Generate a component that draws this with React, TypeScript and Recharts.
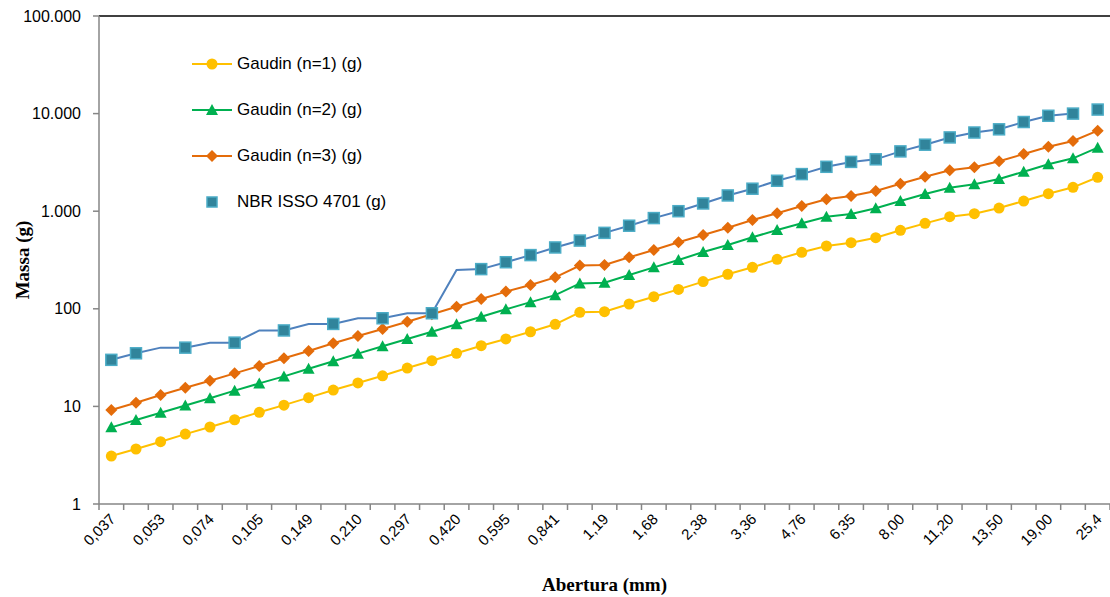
import React from 'react';
import { LineChart, Line, XAxis, YAxis, ReferenceLine } from 'recharts';

const aberturas = [
  '0,037', '0,044', '0,053', '0,063', '0,074', '0,088', '0,105', '0,125', '0,149', '0,177',
  '0,210', '0,250', '0,297', '0,354', '0,420', '0,500', '0,595', '0,707', '0,841', '1,00',
  '1,19', '1,41', '1,68', '2,00', '2,38', '2,83', '3,36', '4,00', '4,76', '5,66',
  '6,35', '6,73', '8,00', '9,51', '11,20', '12,50', '13,50', '16,00', '19,00', '22,40', '25,4',
];

const gaudin1 = [
  3.1, 3.66, 4.35, 5.2, 6.15, 7.3, 8.7, 10.3, 12.3, 14.7,
  17.4, 20.6, 24.7, 29.4, 35, 41.9, 49.1, 58.2, 69.4, 92,
  93.4, 112, 133, 158, 190, 226, 266, 321, 379, 440,
  476, 535, 637, 751, 878, 943, 1078, 1271, 1511, 1757, 2225,
];

const gaudin2 = [
  6.1, 7.26, 8.62, 10.2, 12.1, 14.5, 17.2, 20.3, 24.3, 29,
  34.7, 41.3, 49.1, 58.2, 69.4, 83, 98.8, 117, 138, 182,
  185, 222, 266, 316, 382, 450, 540, 642, 751, 878,
  936, 1071, 1271, 1500, 1741, 1887, 2138, 2541, 3022, 3482, 4478,
];

const gaudin3 = [
  9.2, 10.9, 13.1, 15.5, 18.3, 21.8, 25.9, 31.1, 36.9, 44.3,
  52.6, 62.1, 73.8, 87.8, 105, 126, 150, 175, 210, 277,
  281, 337, 400, 480, 570, 678, 813, 951, 1130, 1324,
  1432, 1611, 1913, 2256, 2623, 2816, 3246, 3855, 4581, 5240, 6680,
];

// blue line (no markers) and the NBR squares
const nbrLinha = [
  30, 35, 40, 40, 45, 45, 60, 60, 70, 70,
  80, 80, 90, 90, 250, 255, 300, 355, 425, 500,
  600, 710, 850, 1000, 1200, 1450, 1700, 2050, 2400, 2850,
  3200, 3400, 4100, 4800, 5700, 6400, 6900, 8200, 9500, 10000, null,
];

const nbrPontos = [
  30, 35, null, 40, null, 45, null, 60, null, 70,
  null, 80, null, 90, null, 255, 300, 355, 425, 500,
  600, 710, 850, 1000, 1200, 1450, 1700, 2050, 2400, 2850,
  3200, 3400, 4100, 4800, 5700, 6400, 6900, 8200, 9500, 10000, 11000,
];

const yTicks = [1, 10, 100, 1000, 10000, 100000];

const data = aberturas.map((abertura, i) => ({
  abertura,
  g1: gaudin1[i],
  g2: gaudin2[i],
  g3: gaudin3[i],
  nbrLinha: nbrLinha[i],
  nbr: nbrPontos[i],
}));

const W = 1110;
const H = 597;
const PLOT_LEFT = 99;
const HALF_BAND = (W - PLOT_LEFT) / aberturas.length / 2;

const YELLOW = '#FFC000';
const GREEN = '#00B050';
const ORANGE = '#E46C0A';
const BLUE = '#4F81BD';
const SQ_FILL = '#31849B';
const SQ_STROKE = '#4BACC6';
const AXIS = '#868686';

const fmt = (n: number) => String(n).replace(/\B(?=(\d{3})+(?!\d))/g, '.');

const XTick = (props: any) => {
  const { x, y, payload, index } = props;
  return (
    <g>
      <line x1={x + HALF_BAND} y1={y} x2={x + HALF_BAND} y2={y + 6} stroke={AXIS} strokeWidth={1.5} />
      {index === 0 && (
        <line x1={x - HALF_BAND} y1={y} x2={x - HALF_BAND} y2={y + 6} stroke={AXIS} strokeWidth={1.5} />
      )}
      {index % 2 === 0 && (
        <text
          x={x + 5}
          y={y + 16}
          transform={`rotate(-45, ${x + 5}, ${y + 16})`}
          textAnchor="end"
          fontSize={15}
          fontFamily="Liberation Sans, Arial, sans-serif"
          fill="#000"
        >
          {payload.value}
        </text>
      )}
    </g>
  );
};

const Triangle = (props: any) => {
  const { cx, cy, value } = props;
  if (value == null || cx == null || cy == null) return <g key={props.key} />;
  return <polygon key={props.key} points={`${cx},${cy - 6} ${cx + 6},${cy + 5} ${cx - 6},${cy + 5}`} fill={GREEN} />;
};

const Diamond = (props: any) => {
  const { cx, cy, value } = props;
  if (value == null || cx == null || cy == null) return <g key={props.key} />;
  return <polygon key={props.key} points={`${cx},${cy - 6} ${cx + 6},${cy} ${cx},${cy + 6} ${cx - 6},${cy}`} fill={ORANGE} />;
};

const Square = (props: any) => {
  const { cx, cy, value } = props;
  if (value == null || cx == null || cy == null) return <g key={props.key} />;
  return <rect key={props.key} x={cx - 5.5} y={cy - 5.5} width={11} height={11} fill={SQ_FILL} stroke={SQ_STROKE} strokeWidth={1.5} />;
};

const legendItems = [
  { name: 'Gaudin (n=1) (g)', color: YELLOW, shape: 'circle' },
  { name: 'Gaudin (n=2) (g)', color: GREEN, shape: 'triangle' },
  { name: 'Gaudin (n=3) (g)', color: ORANGE, shape: 'diamond' },
  { name: 'NBR ISSO 4701 (g)', color: SQ_FILL, shape: 'square' },
];

const LegendBox = () => (
  <div
    style={{
      position: 'absolute',
      left: 190,
      top: 41,
      fontFamily: 'Liberation Sans, Arial, sans-serif',
      fontSize: 17,
      color: '#000',
    }}
  >
    {legendItems.map((it) => (
      <div key={it.name} style={{ display: 'flex', alignItems: 'center', height: 46 }}>
        <svg width={44} height={16}>
          {it.shape !== 'square' && <line x1={2} y1={8} x2={42} y2={8} stroke={it.color} strokeWidth={2} />}
          {it.shape === 'circle' && <circle cx={22} cy={8} r={5.5} fill={it.color} />}
          {it.shape === 'triangle' && <polygon points="22,2 28,13 16,13" fill={it.color} />}
          {it.shape === 'diamond' && <polygon points="22,2 28,8 22,14 16,8" fill={it.color} />}
          {it.shape === 'square' && (
            <rect x={17} y={3} width={10} height={10} fill={SQ_FILL} stroke={SQ_STROKE} strokeWidth={1.5} />
          )}
        </svg>
        <span style={{ marginLeft: 3 }}>{it.name}</span>
      </div>
    ))}
  </div>
);

export default function App() {
  return (
    <div style={{ position: 'absolute', left: 0, top: 0, width: W, height: H, background: '#fff' }}>
      <LineChart width={W} height={H} data={data} margin={{ top: 16, right: 0, bottom: 0, left: 0 }}>
        <XAxis
          dataKey="abertura"
          interval={0}
          height={93}
          padding={{ left: HALF_BAND, right: HALF_BAND }}
          tick={<XTick />}
          tickLine={false}
          tickSize={0}
          tickMargin={0}
          axisLine={{ stroke: AXIS, strokeWidth: 1.5 }}
          label={{
            content: (p: any) => (
              <text
                x={p.viewBox.x + p.viewBox.width / 2}
                y={p.viewBox.y + 87}
                textAnchor="middle"
                fontFamily="Liberation Serif, Times New Roman, serif"
                fontWeight="bold"
                fontSize={19}
                fill="#000"
              >
                Abertura (mm)
              </text>
            ),
          }}
        />
        <YAxis
          scale="log"
          domain={[1, 100000]}
          ticks={yTicks}
          allowDataOverflow
          width={PLOT_LEFT}
          tickFormatter={fmt}
          tickSize={6}
          tickMargin={12}
          tick={{ fontSize: 16, fontFamily: 'Liberation Sans, Arial, sans-serif', fill: '#000' }}
          tickLine={{ stroke: AXIS, strokeWidth: 1.5 }}
          axisLine={{ stroke: AXIS, strokeWidth: 1.5 }}
          label={{
            content: (p: any) => (
              <text
                x={22}
                y={p.viewBox.y + p.viewBox.height / 2}
                transform={`rotate(-90, 22, ${p.viewBox.y + p.viewBox.height / 2})`}
                textAnchor="middle"
                dominantBaseline="central"
                fontFamily="Liberation Serif, Times New Roman, serif"
                fontWeight="bold"
                fontSize={19}
                fill="#000"
              >
                Massa (g)
              </text>
            ),
          }}
        />
        <ReferenceLine y={100000} stroke="#000" strokeWidth={1.5} ifOverflow="visible" />
        <Line
          dataKey="nbrLinha"
          stroke={BLUE}
          strokeWidth={2}
          dot={false}
          activeDot={false}
          legendType="none"
          isAnimationActive={false}
        />
        <Line dataKey="g1" name="Gaudin (n=1) (g)" stroke={YELLOW} strokeWidth={2} dot={{ r: 5.5, fill: YELLOW, stroke: YELLOW, strokeWidth: 0 }} isAnimationActive={false} />
        <Line dataKey="g2" name="Gaudin (n=2) (g)" stroke={GREEN} strokeWidth={2} dot={<Triangle />} isAnimationActive={false} />
        <Line dataKey="g3" name="Gaudin (n=3) (g)" stroke={ORANGE} strokeWidth={2} dot={<Diamond />} isAnimationActive={false} />
        <Line dataKey="nbr" name="NBR ISSO 4701 (g)" stroke="none" dot={<Square />} activeDot={false} isAnimationActive={false} />
      </LineChart>
      <LegendBox />
    </div>
  );
}
